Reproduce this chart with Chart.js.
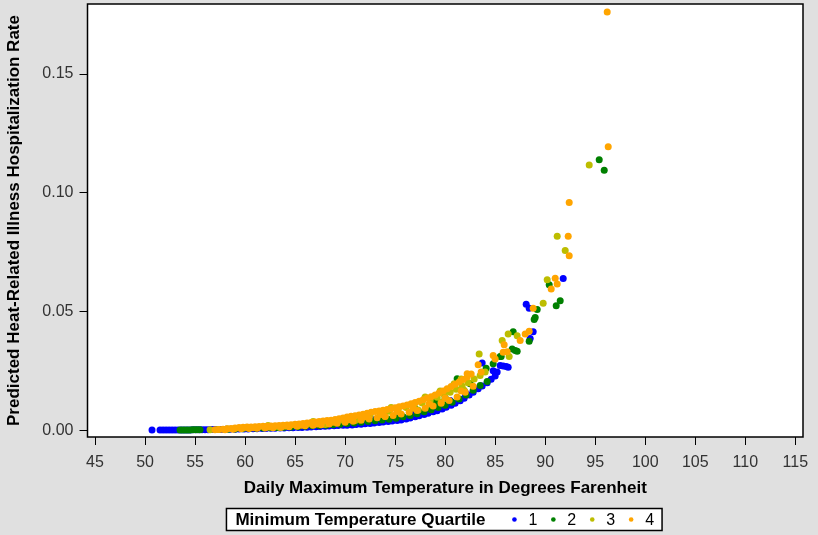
<!DOCTYPE html>
<html>
<head>
<meta charset="utf-8">
<script src="https://cdn.jsdelivr.net/npm/chart.js@4.4.1/dist/chart.umd.min.js"></script>
<style>
  html, body { margin: 0; padding: 0; background: #e0e0e0; }
  #wrap { width: 818px; height: 535px; }
</style>
</head>
<body>
<div id="wrap"><canvas id="chart" width="818" height="535"></canvas></div>
<script>
// values: daily max temperature (F) and predicted rate, per min-temperature quartile
const quartileLabels = ['1', '2', '3', '4'];
const quartileColors = ['#0000ff', '#008000', '#bdbd00', '#ffa500'];

const q1Temp = [50.7, 51.5, 51.8, 52.1, 52.4, 52.7, 53.0, 53.3, 53.6, 53.9, 54.2, 54.5, 54.8, 55.1, 55.4, 55.7,
  56.0, 56.3, 56.6, 56.9, 57.2, 57.5, 57.8, 58.1,
  58.5, 59.0, 59.4, 59.9, 60.3, 60.8, 61.2, 61.7, 62.1, 62.6, 63.0, 63.5, 63.9, 64.4, 64.8, 65.3, 65.7, 66.2,
  66.6, 67.1, 67.5, 68.0, 68.4, 68.9, 69.3, 69.8, 70.2, 70.7, 71.1, 71.6, 72.0, 72.5, 72.9, 73.4, 73.8, 74.3,
  74.7, 75.2, 75.6, 76.1, 76.5, 77.0, 77.4, 77.9, 78.3, 78.8, 79.2, 79.7, 80.1, 80.6, 81.0, 81.5, 81.9, 82.4,
  82.8, 83.3, 83.7, 84.2, 84.6, 85.0,
  69.0, 73.0, 75.0, 77.0, 79.0, 80.5, 82.0,
  83.7, 84.8, 85.2, 85.5, 85.8, 86.1, 86.3, 88.1, 88.4, 88.5, 88.8, 91.8];
const q1Rate = [0.0000, 0.0000, 0.0000, 0.0000, 0.0001, 0.0001, 0.0001, 0.0001, 0.0001, 0.0001, 0.0001, 0.0001, 0.0002, 0.0002, 0.0002, 0.0002,
  0.0002, 0.0002, 0.0003, 0.0003, 0.0003, 0.0003, 0.0003, 0.0004,
  0.0004, 0.0004, 0.0005, 0.0005, 0.0005, 0.0006, 0.0006, 0.0007, 0.0007, 0.0008, 0.0008, 0.0009, 0.0009, 0.0010, 0.0010, 0.0011, 0.0011, 0.0012,
  0.0013, 0.0014, 0.0015, 0.0016, 0.0017, 0.0018, 0.0019, 0.0020, 0.0021, 0.0022, 0.0024, 0.0025, 0.0027, 0.0028, 0.0030, 0.0032, 0.0034, 0.0036,
  0.0038, 0.0040, 0.0043, 0.0047, 0.0051, 0.0056, 0.0061, 0.0066, 0.0071, 0.0077, 0.0082, 0.0089, 0.0096, 0.0105, 0.0113, 0.0124, 0.0134, 0.0148,
  0.0160, 0.0174, 0.0186, 0.0200, 0.0214, 0.0228,
  0.0030, 0.0045, 0.0058, 0.0080, 0.0100, 0.0125, 0.0160,
  0.0283, 0.0250, 0.0245, 0.0272, 0.0270, 0.0268, 0.0265, 0.0530, 0.0513, 0.0386, 0.0414, 0.0639];

const q2Temp = [53.5, 53.75, 54.0, 54.25, 54.5, 54.75, 55.0, 55.25, 55.5, 57.3,
  58.3, 59.0, 59.7, 60.4, 61.1, 61.8, 62.5, 63.2, 63.9, 64.6, 65.3, 66.0, 66.7, 67.4, 68.1, 68.8, 69.5, 70.2,
  70.9, 71.6, 72.3, 73.0, 73.7, 74.4, 75.1, 75.8, 76.5, 77.2, 77.9, 78.6, 79.3, 80.0, 80.7, 81.4, 82.1, 82.8,
  83.5, 84.2,
  77.0, 79.0, 80.0, 82.5, 84.8,
  84.1, 81.2, 85.5, 85.6, 86.7, 86.8, 87.0, 87.2, 88.4, 88.9, 89.0, 89.2, 90.4, 91.1, 91.5, 95.4, 95.9];
const q2Rate = [0.0001, 0.0001, 0.0001, 0.0001, 0.0001, 0.0002, 0.0002, 0.0002, 0.0002, 0.0003,
  0.0004, 0.0005, 0.0006, 0.0007, 0.0008, 0.0009, 0.0010, 0.0011, 0.0012, 0.0013, 0.0014, 0.0016, 0.0018, 0.0019, 0.0021, 0.0023, 0.0025, 0.0028,
  0.0030, 0.0033, 0.0036, 0.0039, 0.0043, 0.0046, 0.0050, 0.0056, 0.0062, 0.0069, 0.0077, 0.0086, 0.0095, 0.0105, 0.0117, 0.0131, 0.0148, 0.0168,
  0.0188, 0.0205,
  0.0090, 0.0120, 0.0135, 0.0195, 0.0280,
  0.0261, 0.0216, 0.0310, 0.0310, 0.0342, 0.0414, 0.0335, 0.0332, 0.0374, 0.0466, 0.0474, 0.0508, 0.0612, 0.0524, 0.0545, 0.1139, 0.1095];

const q3Temp = [56.5, 57.3, 58.2, 59.0, 59.9, 61.0, 62.0, 63.0, 64.0, 65.1, 66.2, 67.3, 68.4, 69.5, 70.5, 71.5,
  72.5, 73.5, 74.4, 75.3, 76.1, 76.9, 77.7, 78.5, 79.2, 79.9, 80.5, 80.9, 81.1, 81.7, 82.3, 82.9, 83.5, 84.0,
  63.5, 68.0, 71.0, 74.0, 77.3, 79.6, 81.9,
  62.3, 66.8, 74.6, 78.0, 79.5, 81.6,
  83.4, 85.7, 86.3, 86.4, 87.2, 89.8, 90.2, 91.2, 92.0, 94.4];
const q3Rate = [0.0002, 0.0003, 0.0005, 0.0007, 0.0009, 0.0011, 0.0013, 0.0015, 0.0018, 0.0021, 0.0025, 0.0030, 0.0036, 0.0043, 0.0050, 0.0056,
  0.0064, 0.0072, 0.0079, 0.0087, 0.0095, 0.0104, 0.0114, 0.0125, 0.0138, 0.0150, 0.0160, 0.0195, 0.0172, 0.0186, 0.0200, 0.0215, 0.0230, 0.0245,
  0.0011, 0.0024, 0.0040, 0.0058, 0.0085, 0.0118, 0.0168,
  0.0019, 0.0036, 0.0095, 0.0140, 0.0165, 0.0215,
  0.0321, 0.0377, 0.0405, 0.0310, 0.0397, 0.0534, 0.0633, 0.0817, 0.0757, 0.1117];

const q4Temp = [57.0, 57.4, 57.8, 58.2, 58.6, 59.0, 59.4, 59.8, 60.2, 60.6, 61.0, 61.4, 61.8, 62.2, 62.6, 63.0,
  63.4, 63.8, 64.2, 64.6, 65.0, 65.4, 65.8, 66.2, 66.6, 67.0, 67.4, 67.8, 68.2, 68.6, 69.0, 69.4, 69.8, 70.2,
  70.6, 71.0, 71.4, 71.8, 72.2, 72.6, 73.0, 73.4, 73.8, 74.2, 74.6, 75.0, 75.4, 75.8, 76.2, 76.6, 77.0, 77.4,
  77.8, 78.2, 78.6, 79.0, 79.4, 79.8, 80.2, 80.6, 81.0, 81.4, 81.8, 82.2, 82.6,
  58.0, 58.8, 59.6, 60.4, 61.2, 62.0, 62.8, 63.6, 64.4, 65.2, 66.0, 66.8, 67.6, 68.4, 69.2, 70.0, 70.8, 71.6,
  72.4, 73.2, 74.0, 74.8, 75.6, 76.4, 77.2, 78.0, 78.8, 79.6, 80.4, 81.2, 82.0, 82.8,
  60.8, 62.4, 64.0, 65.6, 67.2, 68.8, 70.4, 72.0, 73.6, 75.2, 76.8, 78.4, 80.0, 81.6,
  82.2, 83.3, 83.6, 84.8, 85.0, 85.8, 85.9, 86.2, 87.5, 88.0, 88.4, 88.8, 90.6, 91.0, 91.2, 92.3, 92.4, 92.4, 96.2, 96.3];
const q4Rate = [0.0002, 0.0003, 0.0004, 0.0006, 0.0007, 0.0009, 0.0011, 0.0012, 0.0013, 0.0013, 0.0014, 0.0015, 0.0016, 0.0016, 0.0017, 0.0018,
  0.0019, 0.0020, 0.0022, 0.0023, 0.0025, 0.0026, 0.0028, 0.0030, 0.0032, 0.0034, 0.0036, 0.0038, 0.0040, 0.0042, 0.0045, 0.0048, 0.0051, 0.0055,
  0.0058, 0.0061, 0.0064, 0.0067, 0.0071, 0.0075, 0.0078, 0.0081, 0.0084, 0.0087, 0.0090, 0.0094, 0.0098, 0.0102, 0.0106, 0.0111, 0.0116, 0.0122,
  0.0128, 0.0135, 0.0141, 0.0148, 0.0156, 0.0165, 0.0174, 0.0184, 0.0193, 0.0203, 0.0213, 0.0224, 0.0236,
  0.0002, 0.0004, 0.0006, 0.0007, 0.0008, 0.0009, 0.0010, 0.0012, 0.0014, 0.0016, 0.0018, 0.0020, 0.0023, 0.0026, 0.0029, 0.0033, 0.0037, 0.0042,
  0.0047, 0.0052, 0.0057, 0.0062, 0.0068, 0.0075, 0.0083, 0.0092, 0.0102, 0.0113, 0.0125, 0.0140, 0.0160, 0.0185,
  0.0010, 0.0013, 0.0017, 0.0021, 0.0026, 0.0033, 0.0044, 0.0056, 0.0066, 0.0078, 0.0092, 0.0110, 0.0135, 0.0165,
  0.0237, 0.0275, 0.0245, 0.0314, 0.0300, 0.0328, 0.0360, 0.0330, 0.0377, 0.0405, 0.0416, 0.0513, 0.0594, 0.0640, 0.0616, 0.0817, 0.0735, 0.0959, 0.1761, 0.1194];

const xTicks = [45, 50, 55, 60, 65, 70, 75, 80, 85, 90, 95, 100, 105, 110, 115];
const yTicks = [0, 0.05, 0.10, 0.15];

const family = "'Liberation Sans', Arial, sans-serif";
Chart.defaults.font.family = family;

function points(temps, rates) {
  return temps.map((t, i) => ({ x: t, y: rates[i] }));
}

const series = [[q1Temp, q1Rate], [q2Temp, q2Rate], [q3Temp, q3Rate], [q4Temp, q4Rate]];

// plot frame + white plot area
const frame = {
  id: 'frame',
  beforeDraw(chart) {
    const a = chart.chartArea, ctx = chart.ctx;
    ctx.save();
    ctx.fillStyle = '#ffffff';
    ctx.fillRect(a.left, a.top, a.right - a.left, a.bottom - a.top);
    ctx.restore();
  },
  afterDraw(chart) {
    const a = chart.chartArea, ctx = chart.ctx;
    ctx.save();
    ctx.strokeStyle = '#000';
    ctx.lineWidth = 1.5;
    ctx.strokeRect(a.left, a.top, a.right - a.left, a.bottom - a.top);
    ctx.restore();
  }
};

// boxed legend with inline bold title
const legendBox = {
  id: 'legendBox',
  afterDraw(chart) {
    const ctx = chart.ctx, a = chart.chartArea;
    const title = 'Minimum Temperature Quartile';
    ctx.save();
    ctx.font = 'bold 17px ' + family;
    const titleW = ctx.measureText(title).width;
    ctx.font = '16px ' + family;
    const widths = quartileLabels.map(l => ctx.measureText(l).width);
    const padL = 9, padR = 8, titleGap = 29, dotGap = 14, itemGap = 16;
    let total = padL + titleW + titleGap + padR;
    widths.forEach((w, i) => { total += dotGap + w + (i < widths.length - 1 ? itemGap : 0); });
    const left = (a.left + a.right) / 2 - total / 2 - 1;
    const top = chart.height - 26.5, h = 22, cy = top + h / 2;
    ctx.fillStyle = '#fff';
    ctx.fillRect(left, top, total, h);
    ctx.strokeStyle = '#000';
    ctx.lineWidth = 1.5;
    ctx.strokeRect(left, top, total, h);
    ctx.textBaseline = 'middle';
    ctx.fillStyle = '#000';
    ctx.font = 'bold 17px ' + family;
    ctx.fillText(title, left + padL, cy + 1);
    let x = left + padL + titleW + titleGap;
    ctx.font = '16px ' + family;
    quartileLabels.forEach((l, i) => {
      ctx.fillStyle = quartileColors[i];
      ctx.beginPath();
      ctx.arc(x, cy, 2.3, 0, Math.PI * 2);
      ctx.fill();
      ctx.fillStyle = '#000';
      ctx.fillText(l, x + dotGap, cy + 1);
      x += dotGap + widths[i] + itemGap;
    });
    ctx.restore();
  }
};

new Chart(document.getElementById('chart'), {
  type: 'scatter',
  data: {
    datasets: series.map((s, i) => ({
      label: quartileLabels[i],
      data: points(s[0], s[1]),
      backgroundColor: quartileColors[i],
      borderWidth: 0,
      pointRadius: 3.5,
      order: 4 - i
    }))
  },
  options: {
    responsive: false,
    animation: false,
    layout: { padding: { left: 0, right: 15, top: 2, bottom: 36 } },
    plugins: {
      legend: { display: false },
      tooltip: { enabled: false }
    },
    scales: {
      x: {
        type: 'linear',
        min: 44.25,
        max: 115.77,
        afterBuildTicks: s => { s.ticks = xTicks.map(v => ({ value: v })); },
        afterFit: s => { s.height = 62; s.paddingLeft = 0; s.paddingRight = 0; },
        grid: { drawOnChartArea: false, drawTicks: true, tickLength: 8, color: '#000', lineWidth: 1 },
        border: { display: false },
        ticks: { autoSkip: false, maxRotation: 0, padding: 8, color: '#333', font: { size: 16 }, callback: v => String(v) },
        title: { display: true, text: 'Daily Maximum Temperature in Degrees Farenheit', color: '#000', font: { size: 17, weight: 'bold' }, padding: { top: 0, bottom: 0 } }
      },
      y: {
        min: -0.0029,
        max: 0.1795,
        afterBuildTicks: s => { s.ticks = yTicks.map(v => ({ value: v })); },
        afterFit: s => { s.width = 87.5; s.paddingTop = 0; s.paddingBottom = 0; },
        grid: { drawOnChartArea: false, drawTicks: true, tickLength: 8, color: '#000', lineWidth: 1 },
        border: { display: false },
        ticks: { padding: 6, color: '#333', font: { size: 16 }, callback: v => v.toFixed(2) },
        title: { display: true, text: 'Predicted Heat-Related Illness Hospitalization Rate', color: '#000', font: { size: 17, weight: 'bold' }, padding: { top: 4, bottom: 0 } }
      }
    }
  },
  plugins: [frame, legendBox]
});
</script>
</body>
</html>
